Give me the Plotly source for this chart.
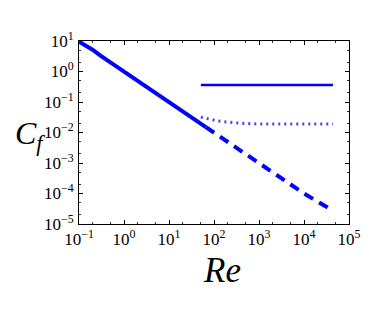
import plotly.graph_objects as go

# Laminar (solid then dashed) friction coefficient ~ 1/Re
re_lam = [0.1, 0.2, 0.3, 1, 3, 10, 30, 66]
cf_lam = [9.5, 5.2, 3.3, 1.0, 0.33, 0.1, 0.033, 0.015]
re_ext = [66, 300, 1000, 3000, 10000, 38000]
cf_ext = [0.015, 0.0033, 0.001, 0.00033, 0.0001, 0.000031]
# Horizontal constant line
re_const = [51, 44000]
cf_const = [0.36, 0.36]
# Dotted curve
re_dot = [51, 80, 120, 200, 400, 1000, 3000, 10000, 44000]
cf_dot = [0.032, 0.027, 0.024, 0.022, 0.020, 0.019, 0.019, 0.019, 0.019]

x_exps = [-1, 0, 1, 2, 3, 4, 5]
y_exps = [-5, -4, -3, -2, -1, 0, 1]

def lbl(e):
    s = str(e).replace("-", "\u2212")
    return f"10<sup>{s}</sup>"

blue = "#0000ff"
fig = go.Figure()
fig.add_trace(go.Scatter(x=re_lam, y=cf_lam, mode="lines", line=dict(color=blue, width=4)))
fig.add_trace(go.Scatter(x=re_ext, y=cf_ext, mode="lines", line=dict(color=blue, width=4, dash="10px,7px")))
fig.add_trace(go.Scatter(x=re_const, y=cf_const, mode="lines", line=dict(color=blue, width=2.5)))
fig.add_trace(go.Scatter(x=re_dot, y=cf_dot, mode="lines", line=dict(color="#4444ff", width=3, dash="2px,4px")))

axis_common = dict(
    type="log", showgrid=False, zeroline=False, automargin=False,
    showline=True, linecolor="black", linewidth=1, mirror="ticks",
    ticks="inside", ticklen=4, tickcolor="black",
    minor=dict(ticks="inside", ticklen=2, tickcolor="#333", showgrid=False),
    tickfont=dict(family="Liberation Serif", size=17, color="black"),
)
fig.update_xaxes(range=[-1, 5], tickvals=[10.0 ** e for e in x_exps],
                 ticktext=[lbl(e) for e in x_exps], **axis_common)
fig.update_yaxes(range=[-5, 1], tickvals=[10.0 ** e for e in y_exps],
                 ticktext=[lbl(e) for e in y_exps], ticklabelstandoff=1, **axis_common)

fig.add_annotation(text="<i>C<sub>f</sub></i>", x=0.0, y=0.5, xref="paper", yref="paper",
                   xanchor="right", yanchor="middle", xshift=-32, yshift=-3, showarrow=False,
                   font=dict(family="Liberation Serif", size=32, color="black"))
fig.add_annotation(text="<i>Re</i>", x=0.5, y=0.0, xref="paper", yref="paper",
                   xanchor="center", yanchor="top", xshift=8, yshift=-25, showarrow=False,
                   font=dict(family="Liberation Serif", size=35, color="black"))

fig.update_layout(width=380, height=302, margin=dict(l=71, r=39, t=33, b=86, autoexpand=False),
                  showlegend=False, plot_bgcolor="white", paper_bgcolor="white")
fig.write_html("out.html")
